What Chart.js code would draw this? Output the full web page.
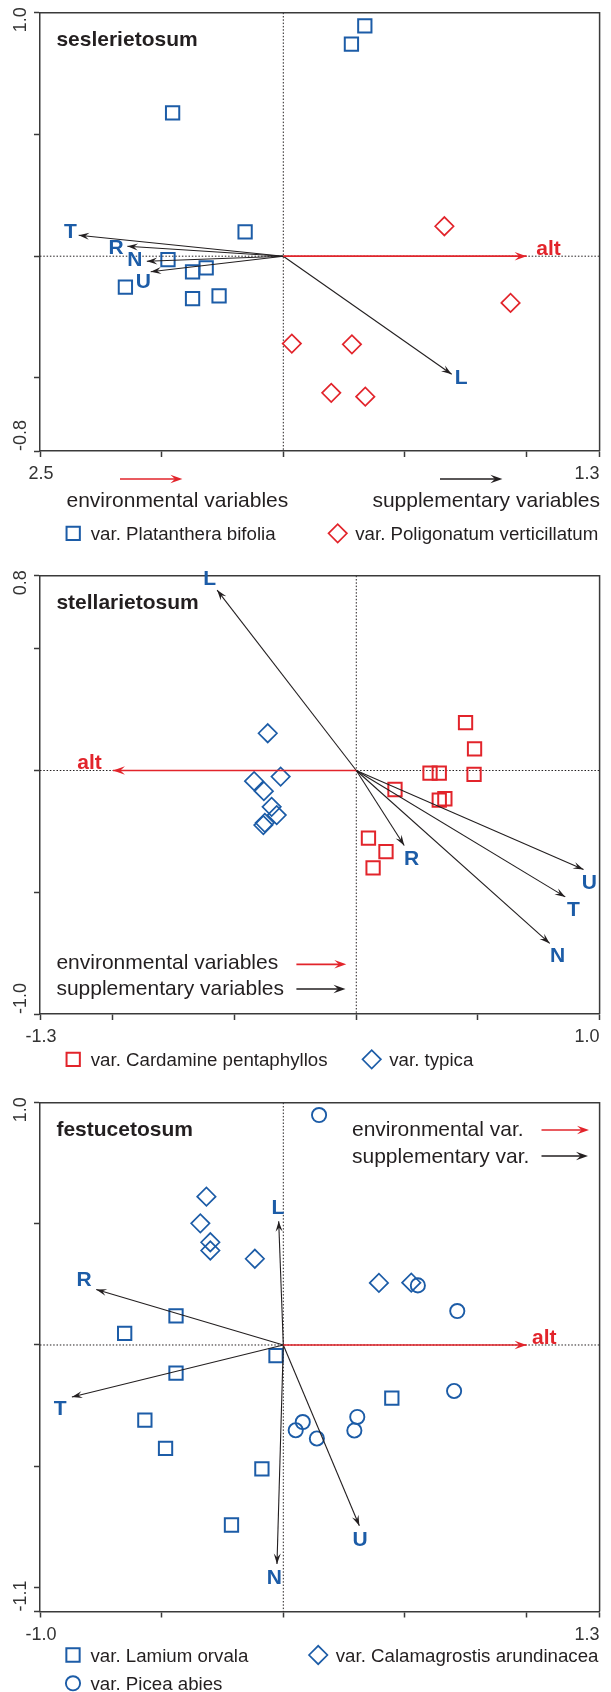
<!DOCTYPE html>
<html lang="en">
<head>
<meta charset="utf-8">
<title>Ordination diagrams</title>
<script src="https://cdn.jsdelivr.net/npm/chart.js@4.4.1/dist/chart.umd.min.js"></script>
<style>
  html, body { margin: 0; padding: 0; background: #fff; }
  body { position: relative; width: 611px; height: 1692px; overflow: hidden; }
  canvas { position: absolute; left: 0; }
</style>
</head>
<body>
<canvas id="ses" width="611" height="560" style="top:0"></canvas>
<canvas id="ste" width="611" height="520" style="top:560px"></canvas>
<canvas id="fes" width="611" height="612" style="top:1080px"></canvas>
<script>
// ─── Data: seslerietosum ──────────────────────────────────────────────────────
const sesTicksX = [-1.0, -0.5, 0, 0.5, 1.0, 1.3];
const sesTicksY = [-0.8, -0.5, 0, 0.5, 1.0];
const sesTickLabelsX = ['2.5', '1.3'];
const sesTickLabelsY = ['-0.8', '1.0'];
const sesPlatanthera = [[0.335, 0.946], [0.280, 0.871], [-0.455, 0.589], [-0.157, 0.100], [-0.474, -0.014],
  [-0.317, -0.048], [-0.373, -0.064], [-0.649, -0.127], [-0.373, -0.174], [-0.264, -0.163]];
const sesPoligonatum = [[0.662, 0.123], [0.934, -0.192], [0.035, -0.359], [0.282, -0.362], [0.197, -0.561], [0.337, -0.577]];
const sesEnvNames = ['alt'];
const sesEnvX = [1.0];
const sesEnvY = [0];
const sesSupNames = ['T', 'R', 'N', 'U', 'L'];
const sesSupX = [-0.841, -0.641, -0.561, -0.545, 0.692];
const sesSupY = [0.086, 0.041, -0.021, -0.064, -0.485];

// ─── Data: stellarietosum ─────────────────────────────────────────────────────
const steTicksX = [-1.3, -1.0, -0.5, 0, 0.5, 1.0];
const steTicksY = [-1.0, -0.5, 0, 0.5, 0.8];
const steTickLabelsX = ['-1.3', '1.0'];
const steTickLabelsY = ['-1.0', '0.8'];
const steCardamine = [[0.449, 0.197], [0.486, 0.089], [0.303, -0.011], [0.341, -0.011], [0.484, -0.016], [0.159, -0.078],
  [0.341, -0.122], [0.364, -0.116], [0.050, -0.278], [0.122, -0.333], [0.069, -0.400]];
const steTypica = [[-0.364, 0.153], [-0.311, -0.025], [-0.420, -0.044], [-0.380, -0.085], [-0.348, -0.149],
  [-0.327, -0.183], [-0.376, -0.215], [-0.382, -0.224]];
const steEnvNames = ['alt'];
const steEnvX = [-1.0];
const steEnvY = [0];
const steSupNames = ['L', 'R', 'U', 'T', 'N'];
const steSupX = [-0.572, 0.197, 0.934, 0.859, 0.795];
const steSupY = [0.741, -0.308, -0.407, -0.519, -0.710];

// ─── Data: festucetosum ───────────────────────────────────────────────────────
const fesTicksX = [-1.0, -0.5, 0, 0.5, 1.0, 1.3];
const fesTicksY = [-1.1, -1.0, -0.5, 0, 0.5, 1.0];
const fesTickLabelsX = ['-1.0', '1.3'];
const fesTickLabelsY = ['-1.1', '1.0'];
const fesLamium = [[-0.441, 0.120], [-0.652, 0.048], [-0.030, -0.044], [-0.441, -0.116], [0.446, -0.219],
  [-0.569, -0.310], [-0.484, -0.427], [-0.088, -0.511], [-0.213, -0.743]];
const fesCalamagrostis = [[-0.316, 0.612], [-0.341, 0.502], [-0.300, 0.424], [-0.300, 0.390], [-0.117, 0.356],
  [0.393, 0.256], [0.526, 0.257]];
const fesPicea = [[0.147, 0.949], [0.553, 0.246], [0.715, 0.140], [0.702, -0.190], [0.304, -0.297],
  [0.292, -0.353], [0.080, -0.318], [0.051, -0.352], [0.138, -0.386]];
const fesEnvNames = ['alt'];
const fesEnvX = [1.0];
const fesEnvY = [0];
const fesSupNames = ['L', 'R', 'T', 'N', 'U'];
const fesSupX = [-0.019, -0.769, -0.869, -0.026, 0.3125];
const fesSupY = [0.511, 0.229, -0.215, -0.904, -0.746];

// ─── Styling ──────────────────────────────────────────────────────────────────
const INK = '#231f20';
const FRAME = '#3a3a3a';
const BLUE = '#1c5ca7';
const RED = '#e2242b';
const FONT = '"Liberation Sans", Arial, Helvetica, sans-serif';

const MARK = {
  rect: { radius: 9.4, width: 2 },
  rectRot: { radius: 9.2, width: 1.7 },
  circle: { radius: 7.1, width: 1.9 },
};

/** Filled barbed arrow head at (x1, y1), pointing away from (x0, y0). */
function arrowHead(ctx, x0, y0, x1, y1, len, half, color) {
  const a = Math.atan2(y1 - y0, x1 - x0);
  ctx.save();
  ctx.translate(x1, y1);
  ctx.rotate(a);
  ctx.beginPath();
  ctx.moveTo(0, 0);
  ctx.lineTo(-len, -half);
  ctx.lineTo(-len * 0.62, 0);
  ctx.lineTo(-len, half);
  ctx.closePath();
  ctx.fillStyle = color;
  ctx.fill();
  ctx.restore();
}

function keyArrow(ctx, x0, x1, y, color, width) {
  ctx.save();
  ctx.strokeStyle = color;
  ctx.lineWidth = width;
  ctx.beginPath();
  ctx.moveTo(x0, y);
  ctx.lineTo(x1 - 6, y);
  ctx.stroke();
  ctx.restore();
  arrowHead(ctx, x0, y, x1, y, 12, 4.2, color);
}

function marker(ctx, style, color, x, y) {
  const m = MARK[style];
  ctx.save();
  ctx.strokeStyle = color;
  ctx.fillStyle = 'rgba(0,0,0,0)';
  ctx.lineWidth = m.width;
  Chart.helpers.drawPoint(ctx, { pointStyle: style, radius: m.radius, borderWidth: m.width, rotation: 0 }, x, y);
  ctx.restore();
}

function arrowSets(names, xs, ys, color, width, offsets, kind) {
  return names.map((n, i) => ({
    label: n,
    data: [{ x: 0, y: 0 }, { x: xs[i], y: ys[i] }],
    showLine: true,
    borderColor: color,
    borderWidth: width,
    pointRadius: 0,
    pointHoverRadius: 0,
    fill: false,
    arrowKind: kind,
    labelOffset: offsets[i],
  }));
}

// ─── Panel plugin: frame, zero lines, arrow heads, texts ─────────────────────
function panelPlugin(cfg) {
  return {
    id: 'panelExtras',
    beforeDatasetsDraw(chart) {
      const { ctx, chartArea: a, scales: { x, y } } = chart;
      const x0 = x.getPixelForValue(0);
      const y0 = y.getPixelForValue(0);
      ctx.save();
      ctx.strokeStyle = INK;
      ctx.lineWidth = 1;
      ctx.setLineDash([1.5, 1.8]);
      ctx.beginPath();
      ctx.moveTo(x0, a.top); ctx.lineTo(x0, a.bottom);
      ctx.moveTo(a.left, y0); ctx.lineTo(a.right, y0);
      ctx.stroke();
      ctx.setLineDash([]);
      ctx.strokeStyle = FRAME;
      ctx.lineWidth = 1.5;
      ctx.beginPath();
      ctx.moveTo(a.left, a.top); ctx.lineTo(a.right, a.top); ctx.lineTo(a.right, a.bottom);
      ctx.stroke();
      ctx.restore();
    },
    afterDatasetsDraw(chart) {
      const { ctx } = chart;
      chart.data.datasets.forEach((ds, i) => {
        if (!ds.arrowKind) return;
        const pts = chart.getDatasetMeta(i).data;
        const p0 = pts[0], p1 = pts[1];
        const env = ds.arrowKind === 'env';
        arrowHead(ctx, p0.x, p0.y, p1.x, p1.y, env ? 12 : 10.5, env ? 4.3 : 3.5, ds.borderColor);
        ctx.save();
        ctx.font = `bold 21px ${FONT}`;
        ctx.fillStyle = env ? RED : BLUE;
        ctx.textAlign = 'center';
        ctx.textBaseline = 'middle';
        ctx.fillText(ds.label, p1.x + ds.labelOffset[0], p1.y + ds.labelOffset[1]);
        ctx.restore();
      });
    },
    afterDraw(chart) {
      const { ctx, chartArea: a, scales: { x, y } } = chart;
      ctx.save();
      // title
      ctx.font = `bold 21px ${FONT}`;
      ctx.fillStyle = INK;
      ctx.textAlign = 'left';
      ctx.textBaseline = 'alphabetic';
      ctx.fillText(cfg.title, a.left + 16.4, a.top + 33.5);

      // edge tick labels
      ctx.font = `18px ${FONT}`;
      ctx.fillStyle = '#333';
      ctx.textAlign = 'center';
      ctx.fillText(cfg.xLabels[0], x.getPixelForValue(x.min) + 1, a.bottom + 28);
      ctx.textAlign = 'right';
      ctx.fillText(cfg.xLabels[1], x.getPixelForValue(x.max), a.bottom + 28);
      ctx.textBaseline = 'middle';
      ctx.save();
      ctx.translate(21, y.getPixelForValue(y.min));
      ctx.rotate(-Math.PI / 2);
      ctx.textAlign = 'left';
      ctx.fillText(cfg.yLabels[0], 0, 0);
      ctx.restore();
      ctx.save();
      ctx.translate(21, y.getPixelForValue(y.max) + 7);
      ctx.rotate(-Math.PI / 2);
      ctx.textAlign = 'center';
      ctx.fillText(cfg.yLabels[1], 0, 0);
      ctx.restore();

      // arrow key
      const k = cfg.key;
      keyArrow(ctx, k.env[0], k.env[1], k.env[2], RED, 1.7);
      keyArrow(ctx, k.sup[0], k.sup[1], k.sup[2], INK, 1.3);
      ctx.font = `21px ${FONT}`;
      ctx.fillStyle = INK;
      ctx.textBaseline = 'alphabetic';
      k.texts.forEach((t) => {
        ctx.textAlign = t[3];
        ctx.fillText(t[0], t[1], t[2]);
      });

      // marker legend
      ctx.font = `18.7px ${FONT}`;
      ctx.textAlign = 'left';
      cfg.groups.forEach((g, i) => {
        const [lx, ly] = cfg.legendAt[i];
        marker(ctx, g.style, g.color, lx, ly);
        ctx.fillStyle = INK;
        ctx.fillText(g.name, lx + 17.5, ly + 6.7);
      });
      ctx.restore();
    },
  };
}

function buildPanel(cfg) {
  const datasets = [];
  datasets.push(...arrowSets(cfg.env.names, cfg.env.x, cfg.env.y, RED, 1.7, cfg.env.offsets, 'env'));
  datasets.push(...arrowSets(cfg.sup.names, cfg.sup.x, cfg.sup.y, INK, 1.1, cfg.sup.offsets, 'sup'));
  cfg.groups.forEach((g) => datasets.push({
    label: g.name,
    data: g.points.map(([px, py]) => ({ x: px, y: py })),
    showLine: false,
    pointStyle: g.style,
    pointRadius: MARK[g.style].radius,
    pointHoverRadius: MARK[g.style].radius,
    pointBorderWidth: MARK[g.style].width,
    pointBorderColor: g.color,
    pointBackgroundColor: 'rgba(0,0,0,0)',
  }));

  const axis = (min, max, ticks, horizontal) => ({
    type: 'linear',
    min,
    max,
    afterBuildTicks: (s) => { s.ticks = ticks.map((v) => ({ value: v })); },
    afterFit: (s) => {
      if (horizontal) s.height = 0; else s.width = 0;
      s.paddingLeft = 0; s.paddingRight = 0; s.paddingTop = 0; s.paddingBottom = 0;
    },
    ticks: { display: false },
    grid: { drawOnChartArea: false, drawTicks: true, tickLength: 6, tickColor: FRAME, tickWidth: 1.5 },
    border: { display: true, color: FRAME, width: 1.5 },
  });

  return new Chart(document.getElementById(cfg.id), {
    type: 'scatter',
    data: { datasets },
    options: {
      responsive: false,
      animation: false,
      events: [],
      layout: { padding: cfg.padding },
      plugins: { legend: { display: false }, tooltip: { enabled: false } },
      scales: {
        x: axis(cfg.xMin, cfg.xMax, cfg.xTicks, true),
        y: axis(cfg.yMin, cfg.yMax, cfg.yTicks, false),
      },
    },
    plugins: [panelPlugin(cfg)],
  });
}

buildPanel({
  id: 'ses', title: 'seslerietosum',
  xMin: -1.0, xMax: 1.3, yMin: -0.8, yMax: 1.0,
  xTicks: sesTicksX, yTicks: sesTicksY, xLabels: sesTickLabelsX, yLabels: sesTickLabelsY,
  padding: { left: 40, right: 11, top: 12.7, bottom: 109 },
  groups: [
    { name: 'var. Platanthera bifolia', points: sesPlatanthera, style: 'rect', color: BLUE },
    { name: 'var. Poligonatum verticillatum', points: sesPoligonatum, style: 'rectRot', color: RED },
  ],
  legendAt: [[73.2, 533.3], [337.7, 533.3]],
  env: { names: sesEnvNames, x: sesEnvX, y: sesEnvY, offsets: [[22, -7]] },
  sup: { names: sesSupNames, x: sesSupX, y: sesSupY, offsets: [[-8.2, -3], [-11.3, 2.3], [-12.1, -0.7], [-7.4, 10.7], [9.4, 4]] },
  key: {
    env: [120, 182.4, 479], sup: [440, 502.4, 479],
    texts: [['environmental variables', 66.5, 506.7, 'left'], ['supplementary variables', 600, 506.7, 'right']],
  },
});

buildPanel({
  id: 'ste', title: 'stellarietosum',
  xMin: -1.3, xMax: 1.0, yMin: -1.0, yMax: 0.8,
  xTicks: steTicksX, yTicks: steTicksY, xLabels: steTickLabelsX, yLabels: steTickLabelsY,
  padding: { left: 40, right: 11, top: 15.7, bottom: 66 },
  groups: [
    { name: 'var. Cardamine pentaphyllos', points: steCardamine, style: 'rect', color: RED },
    { name: 'var. typica', points: steTypica, style: 'rectRot', color: BLUE },
  ],
  legendAt: [[73.2, 499.3], [371.7, 499.3]],
  env: { names: steEnvNames, x: steEnvX, y: steEnvY, offsets: [[-23.4, -7.3]] },
  sup: { names: steSupNames, x: steSupX, y: steSupY, offsets: [[-7.4, -11.3], [7.4, 14], [5.9, 14], [8.2, 13.3], [7.8, 12.7]] },
  key: {
    env: [296.4, 346.3, 404.3], sup: [296.4, 345.5, 429],
    texts: [['environmental variables', 56.4, 409.3, 'left'], ['supplementary variables', 56.4, 435, 'left']],
  },
});

buildPanel({
  id: 'fes', title: 'festucetosum',
  xMin: -1.0, xMax: 1.3, yMin: -1.1, yMax: 1.0,
  xTicks: fesTicksX, yTicks: fesTicksY, xLabels: fesTickLabelsX, yLabels: fesTickLabelsY,
  padding: { left: 40, right: 11, top: 22.7, bottom: 80.5 },
  groups: [
    { name: 'var. Lamium orvala', points: fesLamium, style: 'rect', color: BLUE },
    { name: 'var. Calamagrostis arundinacea', points: fesCalamagrostis, style: 'rectRot', color: BLUE },
    { name: 'var. Picea abies', points: fesPicea, style: 'circle', color: BLUE },
  ],
  legendAt: [[73, 575], [318.2, 575], [73, 603.3]],
  env: { names: fesEnvNames, x: fesEnvX, y: fesEnvY, offsets: [[17.6, -6.7]] },
  sup: { names: fesSupNames, x: fesSupX, y: fesSupY, offsets: [[-0.8, -12.7], [-12.1, -9], [-11.7, 12], [-2.7, 14.3], [0.8, 14.3]] },
  key: {
    env: [541.5, 589, 50], sup: [541.5, 588, 76],
    texts: [['environmental var.', 352, 56, 'left'], ['supplementary var.', 352, 82.7, 'left']],
  },
});
</script>
</body>
</html>
